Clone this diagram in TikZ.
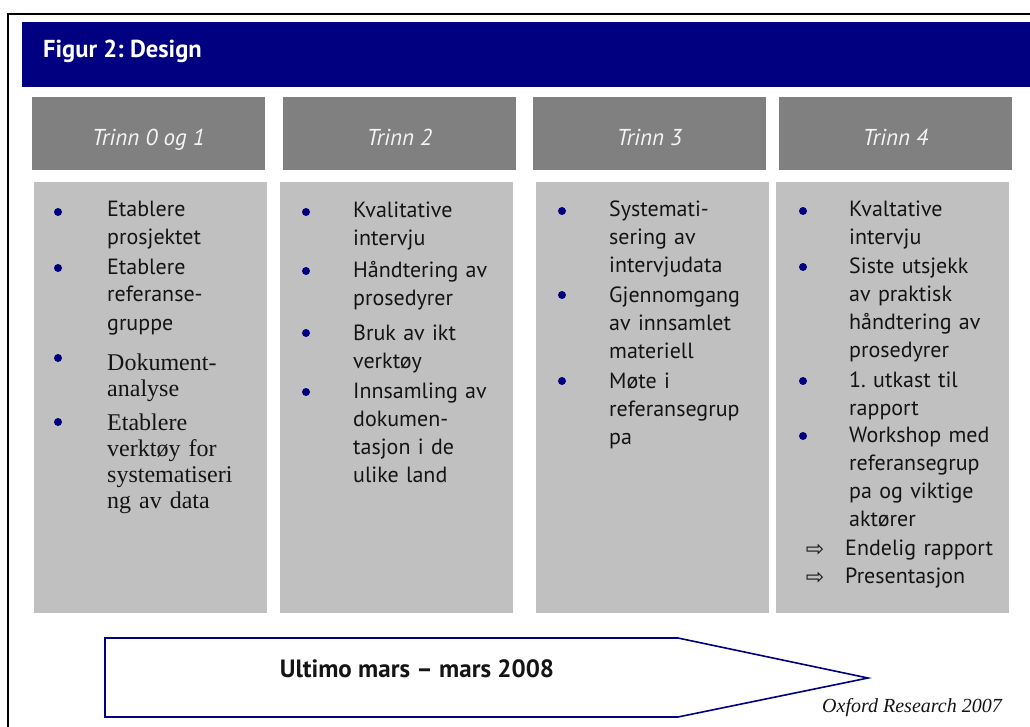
\documentclass[tikz,border=0pt]{standalone}
\usepackage{fontspec}
\newfontfamily\ptsans{PT Sans}
\newfontfamily\oldserif{Liberation Serif}
\newfontfamily\credfont{Liberation Serif}
\newfontfamily\symfont{DejaVu Sans}
\frenchspacing

\definecolor{bandnavy}{RGB}{0,0,128}
\definecolor{headgray}{RGB}{128,128,128}
\definecolor{cellgray}{RGB}{192,192,192}
\definecolor{headtext}{RGB}{245,245,245}
\definecolor{bodytext}{RGB}{20,20,20}

\tikzset{
  titleband/.style={fill=bandnavy, draw=none, anchor=north west, inner sep=0pt,
    minimum width=1040pt, minimum height=65pt},
  titletext/.style={anchor=base west, inner sep=0pt, text=white,
    font=\ptsans\bfseries\fontsize{24.5}{28}\selectfont},
  stagehead/.style={fill=headgray, draw=none, anchor=north west, inner sep=0pt,
    minimum width=233pt, minimum height=73pt},
  stagelabel/.style={anchor=base, inner sep=0pt, text=headtext,
    font=\ptsans\itshape\fontsize{23}{27}\selectfont},
  stagecell/.style={fill=cellgray, draw=none, anchor=north west, inner sep=0pt,
    minimum width=233pt, minimum height=431pt},
  bulletitem/.style={anchor=base west, inner sep=0pt, text width=170pt, align=left,
    text=bodytext, font=\ptsans\fontsize{22}{28}\selectfont},
  serifitem/.style={bulletitem, font=\oldserif\fontsize{24}{26}\selectfont},
  bulletdot/.style={circle, fill=bandnavy, draw=none, inner sep=0pt, minimum size=8pt},
  arrowmark/.style={anchor=center, inner sep=0pt, text=bodytext,
    font=\symfont\fontsize{22}{22}\selectfont},
  spanarrow/.style={draw=bandnavy, line width=1.6pt, line join=miter, fill=white},
  spantext/.style={anchor=base, inner sep=0pt, text=bodytext,
    font=\ptsans\bfseries\fontsize{25}{30}\selectfont},
  credit/.style={anchor=base east, inner sep=0pt, text=bodytext,
    font=\credfont\itshape\fontsize{20}{24}\selectfont},
}

\begin{document}
\begin{tikzpicture}[x=1pt, y=-1pt]
  \path[use as bounding box] (0,0) rectangle (1030,727);
  \clip (0,0) rectangle (1030,727);

  % outer frame (runs off the right and bottom edges)
  \draw[line width=2pt, black] (8,760) -- (8,14) -- (1060,14);

  % title band
  \node[titleband] (band) at (22,22) {};
  \node[titletext] (title) at (43,58) {Figur 2: Design};

  % stage headers
  \node[stagehead] (h1) at (32,97) {};
  \node[stagehead] (h2) at (283,97) {};
  \node[stagehead] (h3) at (533,97) {};
  \node[stagehead] (h4) at (779,97) {};
  \node[stagelabel] (l1) at (148.5,146) {Trinn 0 og 1};
  \node[stagelabel] (l2) at (399.5,146) {Trinn 2};
  \node[stagelabel] (l3) at (649.5,146) {Trinn 3};
  \node[stagelabel] (l4) at (895.5,146) {Trinn 4};

  % stage contents
  \node[stagecell] (c1) at (34,182) {};
  \node[stagecell] (c2) at (280,182) {};
  \node[stagecell] (c3) at (536,182) {};
  \node[stagecell] (c4) at (776,182) {};

  % stage 0 and 1
  \node[bulletdot] (d11) at (58,212) {};
  \node[bulletdot] (d12) at (58,268) {};
  \node[bulletdot] (d13) at (58,358) {};
  \node[bulletdot] (d14) at (58,422) {};
  \node[bulletitem] (i11) at (107,217) {Etablere\\prosjektet};
  \node[bulletitem] (i12) at (107,274) {Etablere\\referanse-\\gruppe};
  \node[serifitem] (i13) at (107,370) {Dokument-\\analyse};
  \node[serifitem] (i14) at (107,430) {Etablere\\verktøy for\\systematiseri\\ng av data};

  % stage 2
  \node[bulletdot] (d21) at (306,212) {};
  \node[bulletdot] (d22) at (306,271) {};
  \node[bulletdot] (d23) at (306,333) {};
  \node[bulletdot] (d24) at (306,392) {};
  \node[bulletitem] (i21) at (353,218) {Kvalitative\\intervju};
  \node[bulletitem] (i22) at (353,277) {Håndtering av\\prosedyrer};
  \node[bulletitem] (i23) at (353,340) {Bruk av ikt\\verktøy};
  \node[bulletitem] (i24) at (353,398) {Innsamling av\\dokumen-\\tasjon i de\\ulike land};

  % stage 3
  \node[bulletdot] (d31) at (562,211) {};
  \node[bulletdot] (d32) at (562,295) {};
  \node[bulletdot] (d33) at (562,381) {};
  \node[bulletitem] (i31) at (609,217) {Systemati-\\sering av\\intervjudata};
  \node[bulletitem] (i32) at (609,302) {Gjennomgang\\av innsamlet\\materiell};
  \node[bulletitem] (i33) at (609,388) {Møte i\\referansegrup\\pa};

  % stage 4
  \node[bulletdot] (d41) at (803,211) {};
  \node[bulletdot] (d42) at (803,267) {};
  \node[bulletdot] (d43) at (803,381) {};
  \node[bulletdot] (d44) at (803,436) {};
  \node[bulletitem] (i41) at (849,217) {Kvaltative\\intervju};
  \node[bulletitem] (i42) at (849,273) {Siste utsjekk\\av praktisk\\håndtering av\\prosedyrer};
  \node[bulletitem] (i43) at (849,387) {1. utkast til\\rapport};
  \node[bulletitem] (i44) at (849,442) {Workshop med\\referansegrup\\pa og viktige\\aktører};
  \node[arrowmark] (p45) at (815,550) {⇨};
  \node[arrowmark] (p46) at (815,578) {⇨};
  \node[bulletitem] (i45) at (845,555) {Endelig rapport};
  \node[bulletitem] (i46) at (845,583) {Presentasjon};

  % time span arrow
  \coordinate (spanNW) at (105,638);
  \coordinate (spanNE) at (678,638);
  \coordinate (spanTip) at (868,678);
  \coordinate (spanSE) at (678,717);
  \coordinate (spanSW) at (105,717);
  \draw[spanarrow] (spanNW) -- (spanNE) -- (spanTip) -- (spanSE) -- (spanSW) -- cycle;
  \node[spantext] (span) at (417,677) {Ultimo mars – mars 2008};

  \node[credit] (cred) at (1002,712) {Oxford Research 2007};
\end{tikzpicture}
\end{document}
